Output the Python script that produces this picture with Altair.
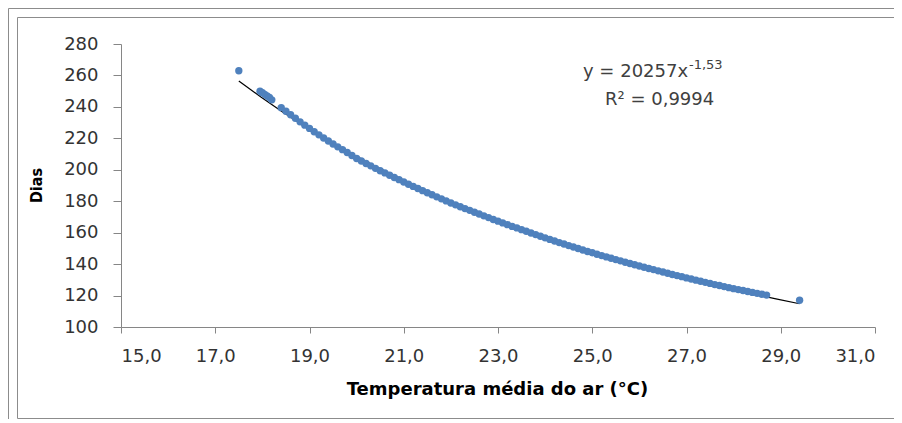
import altair as alt
import pandas as pd

# Temperatura média do ar (°C)
temp = [17.5, 17.95, 18.0, 18.05, 18.1, 18.15, 18.2,
        18.4, 18.5, 18.6, 18.7, 18.8, 18.9, 19.0, 19.1, 19.2, 19.3, 19.4, 19.5, 19.6, 19.7, 19.8, 19.9,
        20.0, 20.1, 20.2, 20.3, 20.4, 20.5, 20.6, 20.7, 20.8, 20.9,
        21.0, 21.1, 21.2, 21.3, 21.4, 21.5, 21.6, 21.7, 21.8, 21.9,
        22.0, 22.1, 22.2, 22.3, 22.4, 22.5, 22.6, 22.7, 22.8, 22.9,
        23.0, 23.1, 23.2, 23.3, 23.4, 23.5, 23.6, 23.7, 23.8, 23.9,
        24.0, 24.1, 24.2, 24.3, 24.4, 24.5, 24.6, 24.7, 24.8, 24.9,
        25.0, 25.1, 25.2, 25.3, 25.4, 25.5, 25.6, 25.7, 25.8, 25.9,
        26.0, 26.1, 26.2, 26.3, 26.4, 26.5, 26.6, 26.7, 26.8, 26.9,
        27.0, 27.1, 27.2, 27.3, 27.4, 27.5, 27.6, 27.7, 27.8, 27.9,
        28.0, 28.1, 28.2, 28.3, 28.4, 28.5, 28.6, 28.7, 29.4]

# Dias
dias = [263.0, 250.0, 249.0, 248.0, 247.0, 246.0, 244.5,
        239.5, 237.2, 235.0, 232.8, 230.5, 228.4, 226.3, 224.2, 222.2, 220.2, 218.3, 216.4, 214.6, 212.8, 211.0, 209.1,
        207.2, 205.6, 204.0, 202.5, 200.9, 199.4, 198.0, 196.5, 195.1, 193.7,
        192.2, 190.8, 189.4, 188.1, 186.7, 185.4, 184.1, 182.8, 181.5, 180.2,
        178.9, 177.7, 176.5, 175.3, 174.2, 173.0, 171.9, 170.7, 169.6, 168.4,
        167.3, 166.2, 165.1, 164.0, 163.0, 161.9, 160.9, 159.8, 158.8, 157.7,
        156.7, 155.7, 154.7, 153.7, 152.8, 151.8, 150.9, 149.9, 149.0, 148.0,
        147.2, 146.3, 145.4, 144.6, 143.7, 142.9, 142.1, 141.2, 140.4, 139.6,
        138.8, 138.0, 137.2, 136.5, 135.7, 135.0, 134.2, 133.4, 132.7, 132.0,
        131.2, 130.5, 129.8, 129.1, 128.4, 127.7, 127.0, 126.4, 125.7, 125.0,
        124.4, 123.8, 123.2, 122.6, 122.0, 121.4, 120.8, 120.3, 117.0]

x_ticks = [15, 17, 19, 21, 23, 25, 27, 29, 31]
y_ticks = [100, 120, 140, 160, 180, 200, 220, 240, 260, 280]

df = pd.DataFrame({"temp": temp, "dias": dias})
one = pd.DataFrame({"k": [0]})

FONT = "DejaVu Sans"

x_enc = alt.X("temp:Q",
              scale=alt.Scale(domain=[15, 31], nice=False, zero=False),
              axis=alt.Axis(values=x_ticks, labelExpr="replace(format(datum.value, '.1f'), '.', ',')",
                            title="Temperatura média do ar (°C)", grid=False,
                            tickSize=6, labelPadding=14, labelOverlap=False,
                            labelFontSize=18, titleFontSize=18,
                            titleX=376, titleY=62, titleBaseline="middle", titleAlign="center"))
y_enc = alt.Y("dias:Q",
              scale=alt.Scale(domain=[100, 280], nice=False, zero=False),
              axis=alt.Axis(values=y_ticks, title="Dias", grid=False,
                            tickSize=8, labelPadding=15, labelOverlap=False,
                            labelFontSize=18, titleFontSize=16, titleFont="DejaVu Sans Condensed",
                            titleX=-85, titleY=141, titleAngle=270,
                            titleBaseline="middle", titleAlign="center"))

points = alt.Chart(df).mark_circle(size=54, color="#4F81BD", opacity=1).encode(x=x_enc, y=y_enc)

trend = alt.Chart(df).transform_regression(
    "temp", "dias", method="pow", extent=[17.5, 29.4]
).mark_line(color="black", strokeWidth=1.2).encode(x=x_enc, y=y_enc)

ann_color = "#404040"
eq = alt.Chart(one).mark_text(align="left", baseline="middle", font=FONT, fontSize=18, color=ann_color).encode(
    x=alt.value(462), y=alt.value(28), text=alt.value("y = 20257x"))
eq_sup = alt.Chart(one).mark_text(align="left", baseline="middle", font=FONT, fontSize=13, color=ann_color).encode(
    x=alt.value(568), y=alt.value(21), text=alt.value("-1,53"))
r2 = alt.Chart(one).mark_text(align="left", baseline="middle", font=FONT, fontSize=18, color=ann_color).encode(
    x=alt.value(484), y=alt.value(56), text=alt.value("R² = 0,9994"))

frame_color = "#8C8C8C"
outer_frame = alt.Chart(one).mark_rect(fill="transparent", stroke=frame_color, strokeWidth=1).encode(
    x=alt.value(-112.5), x2=alt.value(820), y=alt.value(-35.5), y2=alt.value(500))
inner_frame = alt.Chart(one).mark_rect(fill="transparent", stroke=frame_color, strokeWidth=1).encode(
    x=alt.value(-103.5), x2=alt.value(820), y=alt.value(-26.5), y2=alt.value(374.5))

chart = alt.layer(
    outer_frame, inner_frame,
    trend, points, eq, eq_sup, r2
).properties(
    width=754, height=283,
    padding={"left": 113, "top": 36, "right": 19, "bottom": 92},
    autosize=alt.AutoSizeParams(type="none"),
    background="white",
).configure_view(stroke=None).configure_axis(
    domainColor="#868686", tickColor="#868686", labelColor="#333333", titleColor="#000000",
    labelFont=FONT, titleFont=FONT, titleFontWeight="bold", domainWidth=1, tickWidth=1,
    labelOverlap=False
)

chart.save("out.html", embed_options={"renderer": "svg", "actions": False})
